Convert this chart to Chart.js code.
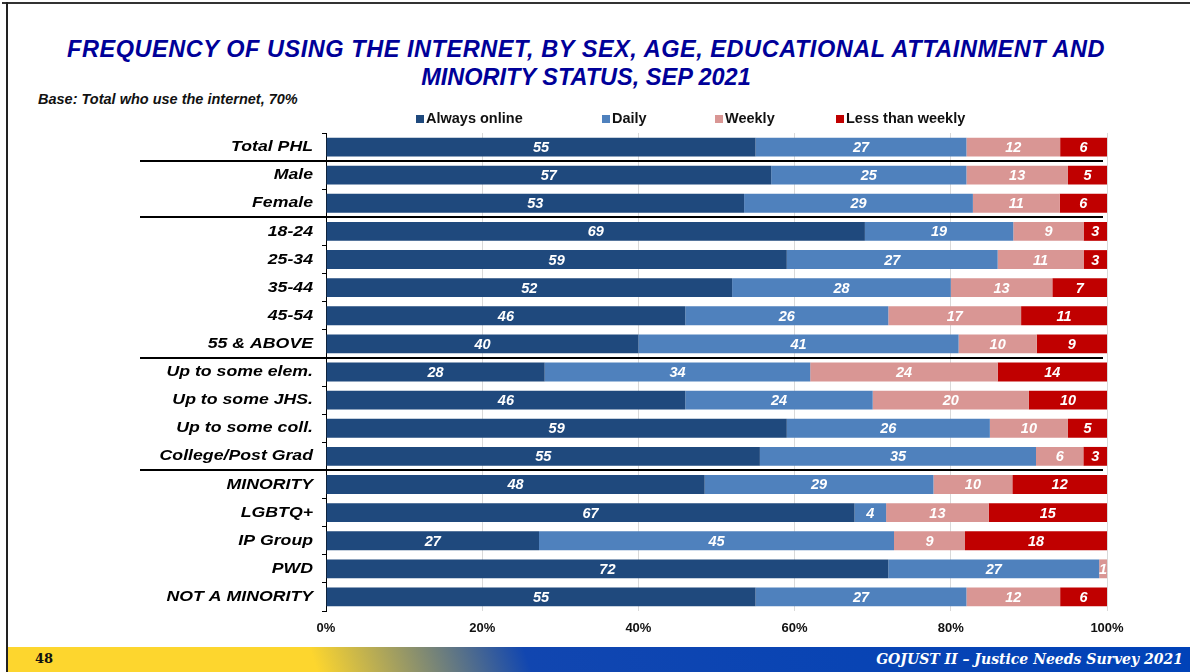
<!DOCTYPE html>
<html>
<head>
<meta charset="utf-8">
<script src="https://cdn.jsdelivr.net/npm/chart.js@4.4.1/dist/chart.umd.min.js"></script>
<style>
  html, body { margin: 0; padding: 0; background: #fff; }
  body { width: 1190px; height: 672px; position: relative; overflow: hidden; font-family: Arial, "Liberation Sans", sans-serif; }
  #frameTop { position: absolute; left: 2px; top: 2px; width: 1188px; height: 2px; background: #333; }
  #frameLeft { position: absolute; left: 6px; top: 2px; width: 2px; height: 670px; background: #222; }
  .title { position: absolute; left: 0; width: 1172px; text-align: center; color: #000099;
           font: italic bold 23.5px Arial, "Liberation Sans", sans-serif; white-space: nowrap; }
  #t1 { top: 36px; letter-spacing: 0.55px; }
  #t2 { top: 64px; }
  #base { position: absolute; left: 38px; top: 91px; font: italic bold 14.5px Arial, "Liberation Sans", sans-serif; color: #111; }
  #wrap { position: absolute; left: 0; top: 0; width: 1190px; height: 672px; }
  #footer { position: absolute; left: 8px; top: 647px; width: 1182px; height: 25px;
            background: linear-gradient(72deg, #fdd62e 0%, #fdd62e 26%, #1146b0 44%, #0042b8 100%); }
  #page { position: absolute; left: 27px; top: 4px; font: bold 13px "DejaVu Serif", "Liberation Serif", serif; color: #111; }
  #src { position: absolute; right: 7px; top: 4px; font: italic bold 14px "DejaVu Serif", "Liberation Serif", serif; color: #fff; }
</style>
</head>
<body>
<div id="frameTop"></div>
<div id="frameLeft"></div>
<div class="title" id="t1">FREQUENCY OF USING THE INTERNET, BY SEX, AGE, EDUCATIONAL ATTAINMENT AND</div>
<div class="title" id="t2">MINORITY STATUS, SEP 2021</div>
<div id="base">Base: Total who use the internet, 70%</div>
<div id="wrap"><canvas id="myChart" width="1190" height="672"></canvas></div>
<div id="footer"><span id="page">48</span><span id="src">GOJUST II – Justice Needs Survey 2021</span></div>

<script>
const categories = [
  "Total PHL", "Male", "Female",
  "18-24", "25-34", "35-44", "45-54", "55 & ABOVE",
  "Up to some elem.", "Up to some JHS.", "Up to some coll.", "College/Post Grad",
  "MINORITY", "LGBTQ+", "IP Group", "PWD", "NOT A MINORITY"
];
const seriesNames = ["Always online", "Daily", "Weekly", "Less than weekly"];
const alwaysOnline = [55, 57, 53, 69, 59, 52, 46, 40, 28, 46, 59, 55, 48, 67, 27, 72, 55];
const daily        = [27, 25, 29, 19, 27, 28, 26, 41, 34, 24, 26, 35, 29,  4, 45, 27, 27];
const weekly       = [12, 13, 11,  9, 11, 13, 17, 10, 24, 20, 10,  6, 10, 13,  9,  1, 12];
const lessWeekly   = [ 6,  5,  6,  3,  3,  7, 11,  9, 14, 10,  5,  3, 12, 15, 18,  0,  6];
const xTicks = ["0%", "20%", "40%", "60%", "80%", "100%"];
// rows after which a group divider is drawn
const groupEnds = [0, 2, 7, 11];

const colors = ["#1f497d", "#4f81bd", "#d99694", "#c00000"];
const rawSeries = [alwaysOnline, daily, weekly, lessWeekly];

// 100% stacked: each row is scaled by its own total
const totals = categories.map((_, i) => rawSeries.reduce((s, arr) => s + arr[i], 0));
const datasets = rawSeries.map((arr, k) => ({
  label: seriesNames[k],
  data: arr.map((v, i) => v / totals[i] * 100),
  raw: arr,
  backgroundColor: colors[k],
  borderWidth: 0,
  categoryPercentage: 1,
  barPercentage: 0.67
}));

const labelFont = 'italic bold 14.5px Arial, "Liberation Sans", sans-serif';
const catFont = 'italic bold 15px Arial, "Liberation Sans", sans-serif';

const valueLabels = {
  id: "valueLabels",
  afterDatasetsDraw(chart) {
    const { ctx, chartArea } = chart;
    ctx.save();
    ctx.beginPath();
    ctx.rect(chartArea.left, chartArea.top, chartArea.right - chartArea.left, chartArea.bottom - chartArea.top);
    ctx.clip();
    ctx.font = labelFont;
    ctx.fillStyle = "#fff";
    ctx.textAlign = "center";
    ctx.textBaseline = "middle";
    chart.data.datasets.forEach((ds, k) => {
      chart.getDatasetMeta(k).data.forEach((bar, i) => {
        const v = ds.raw[i];
        if (!v) return;
        ctx.fillText(String(v), (bar.x + bar.base) / 2, bar.y + 1);
      });
    });
    ctx.restore();
  }
};

// category names, a bit wider than the plain font
const catLabels = {
  id: "catLabels",
  afterDraw(chart) {
    const { ctx } = chart;
    const y = chart.scales.y;
    ctx.save();
    ctx.font = catFont;
    ctx.fillStyle = "#000";
    ctx.textAlign = "right";
    ctx.textBaseline = "middle";
    categories.forEach((c, i) => {
      ctx.save();
      ctx.translate(y.right - 13, y.getPixelForValue(i));
      ctx.scale(1.18, 1);
      ctx.fillText(c, 0, 0);
      ctx.restore();
    });
    ctx.restore();
  }
};

const dividers = {
  id: "dividers",
  afterDraw(chart) {
    const { ctx, chartArea } = chart;
    const y = chart.scales.y;
    ctx.save();
    ctx.strokeStyle = "#000";
    ctx.lineWidth = 2;
    groupEnds.forEach(i => {
      const py = Math.round((y.getPixelForValue(i) + y.getPixelForValue(i + 1)) / 2);
      ctx.beginPath();
      ctx.moveTo(140, py);
      ctx.lineTo(chartArea.right - 4, py);
      ctx.stroke();
    });
    ctx.restore();
  }
};

// legend drawn in one row above the plot
const legendX = [416, 602, 715, 836];
const topLegend = {
  id: "topLegend",
  afterDraw(chart) {
    const { ctx } = chart;
    ctx.save();
    ctx.font = 'bold 14.5px Arial, "Liberation Sans", sans-serif';
    ctx.textBaseline = "middle";
    ctx.textAlign = "left";
    seriesNames.forEach((name, k) => {
      ctx.fillStyle = colors[k];
      ctx.fillRect(legendX[k], 115, 8, 8);
      ctx.fillStyle = "#111";
      ctx.fillText(name, legendX[k] + 10, 119);
    });
    ctx.restore();
  }
};

const ctx = document.getElementById("myChart");
const myChart = new Chart(ctx, {
  type: "bar",
  data: { labels: categories, datasets: datasets },
  options: {
    indexAxis: "y",
    responsive: false,
    animation: false,
    layout: { padding: { left: 0, right: 83, top: 133, bottom: 31 } },
    plugins: { legend: { display: false }, tooltip: { enabled: false } },
    scales: {
      x: {
        stacked: true,
        min: 0,
        max: 100,
        afterFit: s => { s.height = 30; },
        grid: { color: "#d9d9d9", drawTicks: false },
        border: { display: false },
        ticks: {
          stepSize: 20,
          padding: 10,
          color: "#111",
          font: { family: 'Arial, "Liberation Sans", sans-serif', size: 13, weight: "bold" },
          callback: (v, i) => xTicks[i]
        }
      },
      y: {
        stacked: true,
        afterFit: s => { s.width = 326; },
        grid: { offset: true, drawOnChartArea: false, drawTicks: true, tickLength: 4, color: "#000" },
        border: { display: true, color: "#000", width: 1 },
        ticks: { padding: 9, color: "rgba(0,0,0,0)", font: { size: 15 } }
      }
    }
  },
  plugins: [valueLabels, catLabels, dividers, topLegend]
});
</script>
</body>
</html>
